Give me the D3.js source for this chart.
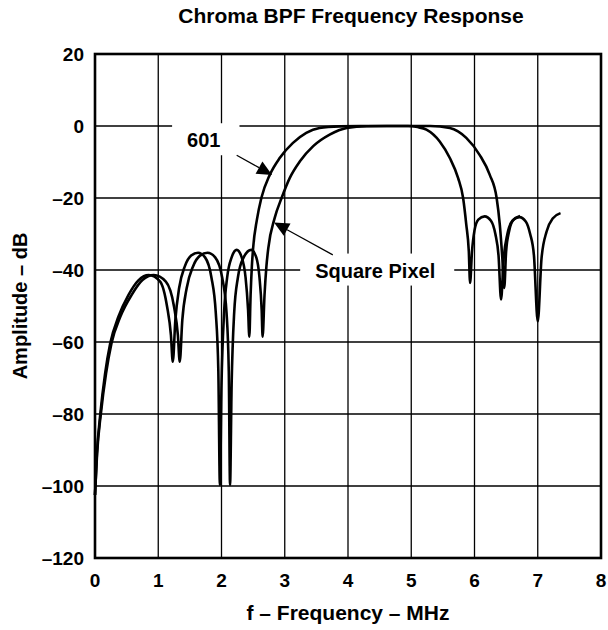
<!DOCTYPE html>
<html>
<head>
<meta charset="utf-8">
<script src="https://cdn.jsdelivr.net/npm/d3@7"></script>
<style>
  body { margin: 0; background: #fff; }
  svg text { font-family: "Liberation Sans", Arial, Helvetica, sans-serif; font-weight: bold; fill: #000; }
</style>
</head>
<body>
<svg id="chart" width="608" height="630"></svg>
<script>
// frequency (MHz) / amplitude (dB)
var freq601 = [0, 0.03, 0.084, 0.16, 0.24, 0.37, 0.53, 0.69, 0.85, 1.03, 1.14, 1.2, 1.23, 1.27, 1.33, 1.42, 1.52, 1.63, 1.74, 1.84, 1.91, 1.95, 1.975,
  2.0, 2.04, 2.09, 2.16, 2.24, 2.32, 2.38, 2.42, 2.44, 2.46, 2.48, 2.5, 2.56, 2.63, 2.765, 2.92, 3.13, 3.34, 3.55, 3.87, 4.2, 4.6, 4.95,
  5.1, 5.24, 5.45, 5.61, 5.74, 5.82, 5.87, 5.91, 5.93, 5.96, 6.0, 6.06, 6.16, 6.26, 6.33, 6.38, 6.42, 6.46, 6.52, 6.6, 6.72];
var db601 = [-102.5, -91, -80, -68.7, -60.4, -53, -46.9, -42.8, -41.4, -43.2, -50.2, -58, -65.5, -54, -45, -39, -36, -35.2, -36.5, -42, -52, -68, -99.7,
  -72, -52, -42, -36.5, -34.4, -36.5, -42, -51, -58.5, -47, -39, -33.9, -26, -20, -13.5, -8.9, -4.7, -1.9, -0.55, -0.1, 0, 0, 0,
  -0.3, -1.0, -4.3, -8.9, -14.4, -20, -27.4, -34.8, -43.6, -35, -29, -26, -25.1, -26.3, -30, -36, -48.2, -37, -30, -26.3, -25];

var freqSquare = [0, 0.033, 0.092, 0.175, 0.26, 0.4, 0.58, 0.75, 0.93, 1.12, 1.25, 1.31, 1.34, 1.38, 1.45, 1.55, 1.66, 1.78, 1.9, 2.01, 2.08, 2.115, 2.135,
  2.16, 2.2, 2.26, 2.35, 2.47, 2.55, 2.6, 2.635, 2.65, 2.68, 2.71, 2.74, 2.84, 2.95, 3.08, 3.24, 3.45, 3.71, 3.98, 4.3, 4.8, 5.3,
  5.61, 5.87, 6.08, 6.24, 6.35, 6.4, 6.44, 6.47, 6.5, 6.55, 6.62, 6.71, 6.81, 6.88, 6.94, 7.0, 7.06, 7.14, 7.24, 7.36];
var dbSquare = [-102.5, -91, -80, -68.7, -60.4, -53, -46.9, -42.8, -41.4, -43.2, -50.2, -58, -65.5, -54, -45, -39, -36, -35.2, -36.5, -42, -52, -68, -99.7,
  -72, -52, -42, -36.5, -34.4, -36.5, -42, -51, -58.5, -47, -39, -33.9, -25.6, -20, -14.4, -9.8, -5.6, -2.4, -0.55, -0.05, 0, 0,
  -0.55, -3.3, -8, -13.5, -20, -27.4, -36.7, -45, -34.8, -29, -26, -25.3, -26.5, -30, -36, -54.3, -36.7, -29.3, -25.6, -24.2];

var xTicks = [0, 1, 2, 3, 4, 5, 6, 7, 8];
var yTicks = [20, 0, -20, -40, -60, -80, -100, -120];

// callouts: label position and arrow from/to, in data units
var callouts = [
  { text: "601", lx: 1.72, ly: -5.9, from: [2.24, -8.1], to: [2.8, -13.6] },
  { text: "Square Pixel", lx: 4.43, ly: -42.1, from: [3.76, -35.8], to: [2.83, -26.8] }
];

var svg = d3.select("#chart");
var margin = { top: 54, right: 7, bottom: 72, left: 95 },
  width = 608 - margin.left - margin.right,
  height = 630 - margin.top - margin.bottom;

var x = d3.scaleLinear().domain([0, 8]).range([0, width]);
var y = d3.scaleLinear().domain([-120, 20]).range([height, 0]);

svg.append("text")
  .attr("x", margin.left + width / 2 + 3)
  .attr("y", 23)
  .attr("text-anchor", "middle")
  .style("font-size", "21px")
  .text("Chroma BPF Frequency Response");

var g = svg.append("g").attr("transform", "translate(" + margin.left + "," + margin.top + ")");

// grid
g.selectAll(".vgrid").data(xTicks).enter().append("line")
  .attr("x1", d => x(d)).attr("x2", d => x(d))
  .attr("y1", 0).attr("y2", height)
  .attr("stroke", "#000").attr("stroke-width", 1.3);
g.selectAll(".hgrid").data(yTicks).enter().append("line")
  .attr("y1", d => y(d)).attr("y2", d => y(d))
  .attr("x1", 0).attr("x2", width)
  .attr("stroke", "#000").attr("stroke-width", 1.3);

// tick labels
g.selectAll(".xlab").data(xTicks).enter().append("text")
  .attr("x", d => x(d))
  .attr("y", height + 29)
  .attr("text-anchor", "middle")
  .style("font-size", "19px")
  .text(d => d);
g.selectAll(".ylab").data(yTicks).enter().append("text")
  .attr("x", -11)
  .attr("y", d => y(d))
  .attr("dy", "0.36em")
  .attr("text-anchor", "end")
  .style("font-size", "19px")
  .text(d => d < 0 ? "\u2013" + Math.abs(d) : d);

// axis titles
svg.append("text")
  .attr("x", margin.left + width / 2)
  .attr("y", 620)
  .attr("text-anchor", "middle")
  .style("font-size", "21px")
  .text("f \u2013 Frequency \u2013 MHz");
svg.append("text")
  .attr("transform", "translate(27," + (margin.top + height / 2) + ") rotate(-90)")
  .attr("text-anchor", "middle")
  .style("font-size", "20px")
  .text("Amplitude \u2013 dB");

// callout labels on white boxes
callouts.forEach(function(c) {
  var box = g.append("rect").attr("fill", "#fff");
  var t = g.append("text")
    .attr("x", x(c.lx)).attr("y", y(c.ly))
    .attr("text-anchor", "middle")
    .style("font-size", "20px")
    .text(c.text);
  var b = t.node().getBBox();
  box.attr("x", b.x - 15).attr("y", b.y - 6).attr("width", b.width + 34).attr("height", b.height + 10);
});

// curves
var line = d3.line()
  .x(d => x(d[0]))
  .y(d => y(d[1]))
  .curve(d3.curveMonotoneX);

[[freq601, db601], [freqSquare, dbSquare]].forEach(function(s) {
  g.append("path")
    .datum(d3.zip(s[0], s[1]))
    .attr("fill", "none")
    .attr("stroke", "#000")
    .attr("stroke-width", 2.6)
    .attr("stroke-linejoin", "round")
    .attr("d", line);
});

// arrows
callouts.forEach(function(c) {
  var x0 = x(c.from[0]), y0 = y(c.from[1]), x1 = x(c.to[0]), y1 = y(c.to[1]);
  var ang = Math.atan2(y1 - y0, x1 - x0);
  var len = 15, half = 7;
  var bx = x1 - len * Math.cos(ang), by = y1 - len * Math.sin(ang);
  g.append("line")
    .attr("x1", x0).attr("y1", y0).attr("x2", bx).attr("y2", by)
    .attr("stroke", "#000").attr("stroke-width", 1.2);
  g.append("path")
    .attr("d", "M" + x1 + "," + y1 +
      "L" + (bx + half * Math.sin(ang)) + "," + (by - half * Math.cos(ang)) +
      "L" + (bx - half * Math.sin(ang)) + "," + (by + half * Math.cos(ang)) + "Z")
    .attr("fill", "#000");
});

// frame
g.append("rect")
  .attr("width", width).attr("height", height)
  .attr("fill", "none").attr("stroke", "#000").attr("stroke-width", 2.6);
</script>
</body>
</html>
